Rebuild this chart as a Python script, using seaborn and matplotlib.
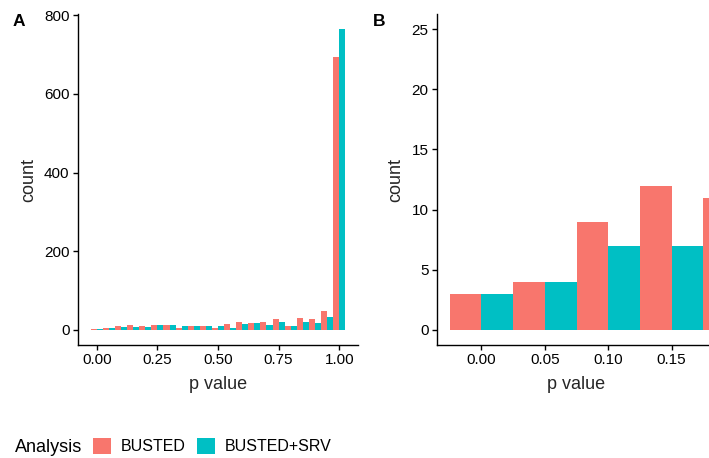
import numpy as np
import pandas as pd
import matplotlib
matplotlib.use("Agg")
import matplotlib.pyplot as plt
import seaborn as sns
from matplotlib.patches import Patch

# ---- data ----
p_centers = [0.00, 0.05, 0.10, 0.15, 0.20, 0.25, 0.30, 0.35, 0.40, 0.45, 0.50,
             0.55, 0.60, 0.65, 0.70, 0.75, 0.80, 0.85, 0.90, 0.95, 1.00]
busted_counts = [3, 4, 9, 12, 11, 12, 12, 6, 11, 9, 6,
                 14, 19, 17, 19, 27, 11, 30, 27, 47, 694]
srv_counts = [3, 4, 7, 7, 7, 12, 12, 9, 9, 9, 11,
              6, 14, 17, 12, 19, 9, 19, 17, 32, 765]
analyses = ["BUSTED", "BUSTED+SRV"]
colors = ["#F8766D", "#00BFC4"]

xticks_a = [0.00, 0.25, 0.50, 0.75, 1.00]
yticks_a = [0, 200, 400, 600, 800]
xticks_b = [0.00, 0.05, 0.10, 0.15]
yticks_b = [0, 5, 10, 15, 20, 25]

df = pd.DataFrame({
    "p": p_centers * 2,
    "count": busted_counts + srv_counts,
    "Analysis": [analyses[0]] * len(p_centers) + [analyses[1]] * len(p_centers),
})

sns.set_style("white")
plt.rcParams["font.family"] = ["Liberation Sans", "DejaVu Sans"]
plt.rcParams["text.color"] = "black"

fig = plt.figure(figsize=(7.09, 4.58), dpi=100)
W, H = 709, 458
axA = fig.add_axes([78 / W, 1 - 345 / H, (358 - 78) / W, (345 - 14) / H])
axB = fig.add_axes([437 / W, 1 - 345 / H, (716 - 437) / W, (345 - 14) / H])

nb = len(p_centers)
for ax in (axA, axB):
    sns.histplot(data=df, x="p", weights="count", hue="Analysis",
                 hue_order=analyses, palette=colors, bins=nb,
                 binrange=(-0.025, 1.025), multiple="dodge", shrink=1,
                 alpha=1, linewidth=0, legend=False, ax=ax)
    for s in ("top", "right"):
        ax.spines[s].set_visible(False)
    for s in ("left", "bottom"):
        ax.spines[s].set_color("black")
        ax.spines[s].set_linewidth(1.0)
    ax.tick_params(axis="both", which="both", direction="out", length=3.6,
                   width=1.0, color="black", labelsize=11, labelcolor="black",
                   pad=2.5, left=True, bottom=True)
    ax.set_ylabel("count", fontsize=13, labelpad=5)
    ax.set_xlabel("p value", fontsize=13, labelpad=6)
    ax.grid(False)

axA.set_xlim(-0.0775, 1.0775)
axA.set_ylim(-38.25, 803.25)
axA.set_xticks(xticks_a)
axA.set_xticklabels([f"{v:.2f}" for v in xticks_a])
axA.set_yticks(yticks_a)

axB.set_xlim(-0.035, 0.185)
axB.set_ylim(-1.25, 26.25)
axB.set_xticks(xticks_b)
axB.set_xticklabels([f"{v:.2f}" for v in xticks_b])
axB.set_yticks(yticks_b)

fig.text(13 / W, 1 - 26 / H, "A", fontsize=12.5, fontweight="bold", ha="left", va="baseline")
fig.text(373 / W, 1 - 26 / H, "B", fontsize=12.5, fontweight="bold", ha="left", va="baseline")

# legend at the bottom
fig.text(15 / W, 1 - 452 / H, "Analysis", fontsize=13, ha="left", va="baseline")
handles = [Patch(facecolor=c, edgecolor="none") for c in colors]
fig.legend(handles, analyses, loc="center left", bbox_to_anchor=(93 / W, 1 - 446 / H),
           ncol=2, frameon=False, fontsize=11.5, handlelength=1.15, handleheight=1.25,
           handletextpad=0.6, columnspacing=0.7, borderpad=0, borderaxespad=0)

fig.savefig("out.png", dpi=100)
